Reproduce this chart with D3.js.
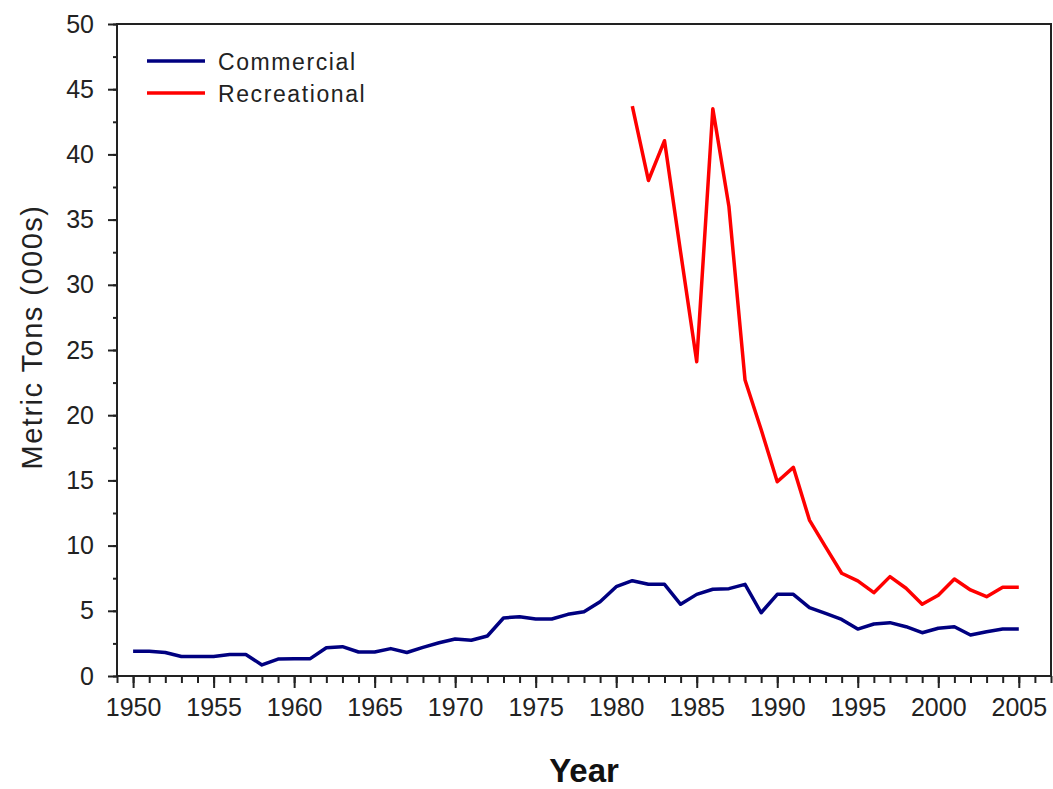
<!DOCTYPE html>
<html>
<head>
<meta charset="utf-8">
<script src="https://cdn.jsdelivr.net/npm/d3@7"></script>
<style>
  body { margin: 0; background: #fff; }
  svg { font-family: "Liberation Sans", Arial, sans-serif; }
</style>
</head>
<body>
<div class="chart"></div>
<script>
var width = 1053;
var height = 789;

// data (thousand metric tons)
var commYears = d3.range(1950, 2006);
var commercial = [
  1.9, 1.9, 1.8, 1.5, 1.5, 1.5, 1.65, 1.65, 0.85, 1.3,
  1.33, 1.33, 2.17, 2.25, 1.84, 1.84, 2.1, 1.8, 2.2, 2.55,
  2.84, 2.74, 3.07, 4.45, 4.55, 4.37, 4.37, 4.73, 4.93, 5.7,
  6.85, 7.31, 7.03, 7.03, 5.5, 6.26, 6.65, 6.7, 7.03, 4.85,
  6.26, 6.26, 5.24, 4.8, 4.34, 3.6, 3.99, 4.09, 3.78, 3.32,
  3.66, 3.78, 3.14, 3.4, 3.6, 3.6
];
var recYears = d3.range(1981, 2006);
var recreational = [
  43.7, 38.0, 41.05, 32.5, 24.1, 43.5, 36.0, 22.7, 18.9, 14.9,
  16.0, 11.96, 9.9, 7.88, 7.29, 6.39, 7.62, 6.73, 5.5, 6.2,
  7.44, 6.6, 6.08, 6.8, 6.8
];
var seriesNames = ['Commercial', 'Recreational'];
var seriesColors = ['#000080', '#ff0000'];
var xMajorTicks = d3.range(1950, 2006, 5);
var yMajorTicks = d3.range(0, 51, 5);

var margin = {left: 117, right: 2, top: 24, bottom: 113};

var svg = d3.select('.chart')
  .append('svg')
  .attr('width', width)
  .attr('height', height)

var x = d3.scaleLinear().domain([1949, 2007]).range([margin.left, width - margin.right])
var y = d3.scaleLinear().domain([0, 50]).range([height - margin.bottom, margin.top])

// frame
svg.append('rect')
  .attr('x', x(1949))
  .attr('y', y(50))
  .attr('width', x(2007) - x(1949))
  .attr('height', y(0) - y(50))
  .attr('fill', 'none')
  .attr('stroke', '#222')
  .attr('stroke-width', 2)

// x minor + major ticks
svg.append('g')
  .attr('transform', 'translate(0,' + y(0) + ')')
  .call(d3.axisBottom(x).tickValues(d3.range(1949, 2008)).tickSize(7).tickFormat(''))
  .call(function(g){ g.select('.domain').remove() })

var xAxis = svg.append('g')
  .attr('transform', 'translate(0,' + y(0) + ')')
  .call(d3.axisBottom(x).tickValues(xMajorTicks).tickSize(12).tickPadding(10).tickFormat(d3.format('d')))
xAxis.select('.domain').remove()

// y minor + major ticks
svg.append('g')
  .attr('transform', 'translate(' + x(1949) + ',0)')
  .call(d3.axisLeft(y).tickValues(d3.range(0, 50.1, 2.5)).tickSize(4).tickFormat(''))
  .call(function(g){ g.select('.domain').remove() })

var yAxis = svg.append('g')
  .attr('transform', 'translate(' + x(1949) + ',0)')
  .call(d3.axisLeft(y).tickValues(yMajorTicks).tickSize(9).tickPadding(14))
yAxis.select('.domain').remove()

svg.selectAll('.tick line').attr('stroke', '#222').attr('stroke-width', 2)
svg.selectAll('.tick text')
  .attr('fill', '#222')
  .style('font-size', '25px')

// lines
var line = d3.line()
  .x(function(d){ return x(d[0]) })
  .y(function(d){ return y(d[1]) })

var comm = commYears.map(function(yr, i){ return [yr, commercial[i]] })
var rec = recYears.map(function(yr, i){ return [yr, recreational[i]] })

svg.append('path')
  .datum(comm)
  .attr('d', line)
  .attr('fill', 'none')
  .attr('stroke', seriesColors[0])
  .attr('stroke-width', 3.5)
  .attr('stroke-linejoin', 'round')

svg.append('path')
  .datum(rec)
  .attr('d', line)
  .attr('fill', 'none')
  .attr('stroke', seriesColors[1])
  .attr('stroke-width', 3.5)
  .attr('stroke-linejoin', 'round')

// legend
var legend = svg.selectAll('.legend')
  .data(seriesNames)
  .enter().append('g')
  .attr('class', 'legend')
  .attr('transform', function(d, i){ return 'translate(147,' + (61 + i * 32) + ')' })

legend.append('line')
  .attr('x1', 0).attr('x2', 58)
  .attr('stroke', function(d, i){ return seriesColors[i] })
  .attr('stroke-width', 3.5)

legend.append('text')
  .attr('x', 71)
  .attr('y', 9)
  .style('font-size', '23px')
  .style('letter-spacing', '1.6px')
  .attr('fill', '#222')
  .text(function(d){ return d })

// axis titles
svg.append('text')
  .attr('transform', 'translate(42,' + y(26.0) + ') rotate(-90)')
  .attr('text-anchor', 'middle')
  .style('font-size', '29px')
  .style('letter-spacing', '1.5px')
  .attr('fill', '#222')
  .text('Metric Tons (000s)')

svg.append('text')
  .attr('x', 584)
  .attr('y', 782)
  .attr('text-anchor', 'middle')
  .style('font-size', '33px')
  .style('font-weight', 'bold')
  .attr('fill', '#111')
  .text('Year')
</script>
</body>
</html>
